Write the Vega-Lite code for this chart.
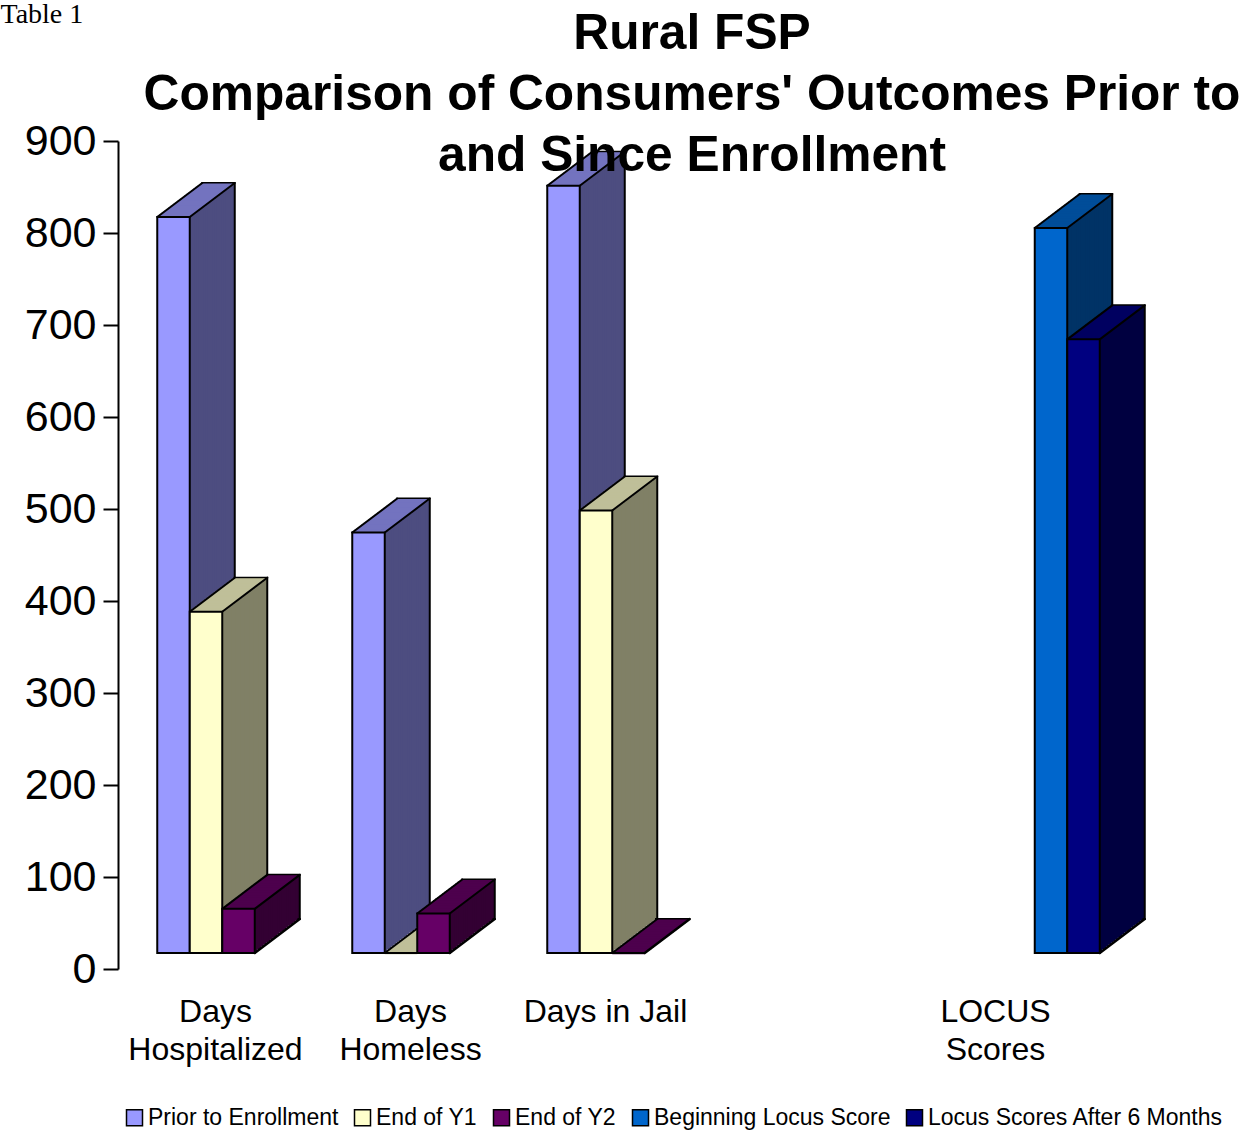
{
  "$schema": "https://vega.github.io/schema/vega-lite/v6.json",
  "background": "white",
  "padding": {"left": 0, "top": 0, "right": 5, "bottom": 5},
  "bounds": "flush",
  "data": {
    "values": [
      {"category": "Days Hospitalized", "series": "Prior to Enrollment", "value": 800},
      {"category": "Days Hospitalized", "series": "End of Y1", "value": 371},
      {"category": "Days Hospitalized", "series": "End of Y2", "value": 48},
      {"category": "Days Homeless", "series": "Prior to Enrollment", "value": 457},
      {"category": "Days Homeless", "series": "End of Y1", "value": 0},
      {"category": "Days Homeless", "series": "End of Y2", "value": 43},
      {"category": "Days in Jail", "series": "Prior to Enrollment", "value": 834},
      {"category": "Days in Jail", "series": "End of Y1", "value": 481},
      {"category": "Days in Jail", "series": "End of Y2", "value": 0},
      {"category": " ", "series": "Prior to Enrollment", "value": null},
      {"category": "LOCUS Scores", "series": "Beginning Locus Score", "value": 788},
      {"category": "LOCUS Scores", "series": "Locus Scores After 6 Months", "value": 667}
    ]
  },
  "title": {
    "text": ["Rural FSP", "Comparison of Consumers' Outcomes Prior to", "and Since Enrollment"],
    "font": "Liberation Sans",
    "fontSize": 49.7,
    "fontWeight": "bold",
    "color": "black",
    "lineHeight": 61,
    "anchor": "middle",
    "dx": 80,
    "offset": -182
  },
  "spacing": 0,
  "facet": {
    "column": {
      "field": "category",
      "type": "nominal",
      "sort": ["Days Hospitalized", "Days Homeless", "Days in Jail", " ", "LOCUS Scores"],
      "header": {
        "title": null,
        "labelOrient": "bottom",
        "labelFont": "Liberation Sans",
        "labelFontSize": 32,
        "labelColor": "black",
        "labelPadding": 28,
        "labelLineHeight": 38,
        "labelExpr": "datum.value == 'Days in Jail' ? datum.value : split(datum.value, ' ')"
      }
    }
  },
  "spec": {
    "width": 195,
    "height": 828,
    "encoding": {
      "x": {
        "field": "series",
        "type": "nominal",
        "scale": {
          "domain": ["Prior to Enrollment", "End of Y1", "End of Y2", "Beginning Locus Score", "Locus Scores After 6 Months"],
          "paddingInner": 0,
          "paddingOuter": 0.5
        },
        "axis": null
      },
      "y": {
        "field": "value",
        "type": "quantitative",
        "scale": {"domain": [0, 900], "nice": false},
        "axis": {
          "values": [0, 100, 200, 300, 400, 500, 600, 700, 800, 900],
          "grid": false,
          "domainColor": "black",
          "domainWidth": 2,
          "tickColor": "black",
          "tickWidth": 2,
          "tickSize": 15,
          "labelFont": "Liberation Sans",
          "labelFontSize": 43,
          "labelColor": "black",
          "labelPadding": 7,
          "title": "Table 1",
          "titleAngle": 0,
          "titleX": -118,
          "titleY": -119,
          "titleAlign": "left",
          "titleBaseline": "alphabetic",
          "titleFont": "Liberation Serif",
          "titleFontSize": 28,
          "titleFontWeight": "normal",
          "titleColor": "black"
        }
      }
    },
    "layer": [
      {"mark": {"type": "bar", "stroke": "black", "strokeWidth": 2, "xOffset": 68, "x2Offset": 68, "yOffset": -50, "y2Offset": -50},
       "encoding": {"fill": {"field": "series", "type": "nominal", "scale": {"domain": ["Locus Scores After 6 Months", "Beginning Locus Score", "End of Y2", "End of Y1", "Prior to Enrollment"], "range": ["#000040", "#003366", "#330033", "#808066", "#4D4D80"]}, "legend": null}}},
      {"mark": {"type": "bar", "xOffset": 65.75, "x2Offset": 65.75, "yOffset": -48.3, "y2Offset": -48.3}, "encoding": {"fill": {"field": "series", "type": "nominal", "legend": null}}},
      {"mark": {"type": "rule", "strokeWidth": 2.5, "xOffset": 49.5, "x2Offset": 82, "yOffset": -48.3}, "encoding": {"x2": {"field": "series"}, "stroke": {"field": "series", "type": "nominal", "scale": {"domain": ["End of Y1", "Prior to Enrollment", "End of Y2", "Beginning Locus Score", "Locus Scores After 6 Months"], "range": ["#BFBF99", "#7373BF", "#4D004D", "#004D99", "#000060"]}, "legend": null}}},
      {"mark": {"type": "bar", "xOffset": 63.5, "x2Offset": 63.5, "yOffset": -46.6, "y2Offset": -46.6}, "encoding": {"fill": {"field": "series", "type": "nominal", "legend": null}}},
      {"mark": {"type": "rule", "strokeWidth": 2.5, "xOffset": 47.25, "x2Offset": 79.75, "yOffset": -46.6}, "encoding": {"x2": {"field": "series"}, "stroke": {"field": "series", "type": "nominal", "legend": null}}},
      {"mark": {"type": "bar", "xOffset": 61.25, "x2Offset": 61.25, "yOffset": -44.9, "y2Offset": -44.9}, "encoding": {"fill": {"field": "series", "type": "nominal", "legend": null}}},
      {"mark": {"type": "rule", "strokeWidth": 2.5, "xOffset": 45, "x2Offset": 77.5, "yOffset": -44.9}, "encoding": {"x2": {"field": "series"}, "stroke": {"field": "series", "type": "nominal", "legend": null}}},
      {"mark": {"type": "bar", "xOffset": 59, "x2Offset": 59, "yOffset": -43.2, "y2Offset": -43.2}, "encoding": {"fill": {"field": "series", "type": "nominal", "legend": null}}},
      {"mark": {"type": "rule", "strokeWidth": 2.5, "xOffset": 42.75, "x2Offset": 75.25, "yOffset": -43.2}, "encoding": {"x2": {"field": "series"}, "stroke": {"field": "series", "type": "nominal", "legend": null}}},
      {"mark": {"type": "bar", "xOffset": 56.75, "x2Offset": 56.75, "yOffset": -41.5, "y2Offset": -41.5}, "encoding": {"fill": {"field": "series", "type": "nominal", "legend": null}}},
      {"mark": {"type": "rule", "strokeWidth": 2.5, "xOffset": 40.5, "x2Offset": 73, "yOffset": -41.5}, "encoding": {"x2": {"field": "series"}, "stroke": {"field": "series", "type": "nominal", "legend": null}}},
      {"mark": {"type": "bar", "xOffset": 54.5, "x2Offset": 54.5, "yOffset": -39.8, "y2Offset": -39.8}, "encoding": {"fill": {"field": "series", "type": "nominal", "legend": null}}},
      {"mark": {"type": "rule", "strokeWidth": 2.5, "xOffset": 38.25, "x2Offset": 70.75, "yOffset": -39.8}, "encoding": {"x2": {"field": "series"}, "stroke": {"field": "series", "type": "nominal", "legend": null}}},
      {"mark": {"type": "bar", "xOffset": 52.25, "x2Offset": 52.25, "yOffset": -38.1, "y2Offset": -38.1}, "encoding": {"fill": {"field": "series", "type": "nominal", "legend": null}}},
      {"mark": {"type": "rule", "strokeWidth": 2.5, "xOffset": 36, "x2Offset": 68.5, "yOffset": -38.1}, "encoding": {"x2": {"field": "series"}, "stroke": {"field": "series", "type": "nominal", "legend": null}}},
      {"mark": {"type": "bar", "xOffset": 50, "x2Offset": 50, "yOffset": -36.4, "y2Offset": -36.4}, "encoding": {"fill": {"field": "series", "type": "nominal", "legend": null}}},
      {"mark": {"type": "rule", "strokeWidth": 2.5, "xOffset": 33.75, "x2Offset": 66.25, "yOffset": -36.4}, "encoding": {"x2": {"field": "series"}, "stroke": {"field": "series", "type": "nominal", "legend": null}}},
      {"mark": {"type": "bar", "xOffset": 47.75, "x2Offset": 47.75, "yOffset": -34.7, "y2Offset": -34.7}, "encoding": {"fill": {"field": "series", "type": "nominal", "legend": null}}},
      {"mark": {"type": "rule", "strokeWidth": 2.5, "xOffset": 31.5, "x2Offset": 64, "yOffset": -34.7}, "encoding": {"x2": {"field": "series"}, "stroke": {"field": "series", "type": "nominal", "legend": null}}},
      {"mark": {"type": "bar", "xOffset": 45.5, "x2Offset": 45.5, "yOffset": -33, "y2Offset": -33}, "encoding": {"fill": {"field": "series", "type": "nominal", "legend": null}}},
      {"mark": {"type": "rule", "strokeWidth": 2.5, "xOffset": 29.25, "x2Offset": 61.75, "yOffset": -33}, "encoding": {"x2": {"field": "series"}, "stroke": {"field": "series", "type": "nominal", "legend": null}}},
      {"mark": {"type": "bar", "xOffset": 43.25, "x2Offset": 43.25, "yOffset": -31.3, "y2Offset": -31.3}, "encoding": {"fill": {"field": "series", "type": "nominal", "legend": null}}},
      {"mark": {"type": "rule", "strokeWidth": 2.5, "xOffset": 27, "x2Offset": 59.5, "yOffset": -31.3}, "encoding": {"x2": {"field": "series"}, "stroke": {"field": "series", "type": "nominal", "legend": null}}},
      {"mark": {"type": "bar", "xOffset": 41, "x2Offset": 41, "yOffset": -29.6, "y2Offset": -29.6}, "encoding": {"fill": {"field": "series", "type": "nominal", "legend": null}}},
      {"mark": {"type": "rule", "strokeWidth": 2.5, "xOffset": 24.75, "x2Offset": 57.25, "yOffset": -29.6}, "encoding": {"x2": {"field": "series"}, "stroke": {"field": "series", "type": "nominal", "legend": null}}},
      {"mark": {"type": "bar", "xOffset": 38.75, "x2Offset": 38.75, "yOffset": -27.9, "y2Offset": -27.9}, "encoding": {"fill": {"field": "series", "type": "nominal", "legend": null}}},
      {"mark": {"type": "rule", "strokeWidth": 2.5, "xOffset": 22.5, "x2Offset": 55, "yOffset": -27.9}, "encoding": {"x2": {"field": "series"}, "stroke": {"field": "series", "type": "nominal", "legend": null}}},
      {"mark": {"type": "bar", "xOffset": 36.5, "x2Offset": 36.5, "yOffset": -26.2, "y2Offset": -26.2}, "encoding": {"fill": {"field": "series", "type": "nominal", "legend": null}}},
      {"mark": {"type": "rule", "strokeWidth": 2.5, "xOffset": 20.25, "x2Offset": 52.75, "yOffset": -26.2}, "encoding": {"x2": {"field": "series"}, "stroke": {"field": "series", "type": "nominal", "legend": null}}},
      {"mark": {"type": "bar", "xOffset": 34.25, "x2Offset": 34.25, "yOffset": -24.5, "y2Offset": -24.5}, "encoding": {"fill": {"field": "series", "type": "nominal", "legend": null}}},
      {"mark": {"type": "rule", "strokeWidth": 2.5, "xOffset": 18, "x2Offset": 50.5, "yOffset": -24.5}, "encoding": {"x2": {"field": "series"}, "stroke": {"field": "series", "type": "nominal", "legend": null}}},
      {"mark": {"type": "bar", "xOffset": 32, "x2Offset": 32, "yOffset": -22.8, "y2Offset": -22.8}, "encoding": {"fill": {"field": "series", "type": "nominal", "legend": null}}},
      {"mark": {"type": "rule", "strokeWidth": 2.5, "xOffset": 15.75, "x2Offset": 48.25, "yOffset": -22.8}, "encoding": {"x2": {"field": "series"}, "stroke": {"field": "series", "type": "nominal", "legend": null}}},
      {"mark": {"type": "bar", "xOffset": 29.75, "x2Offset": 29.75, "yOffset": -21.1, "y2Offset": -21.1}, "encoding": {"fill": {"field": "series", "type": "nominal", "legend": null}}},
      {"mark": {"type": "rule", "strokeWidth": 2.5, "xOffset": 13.5, "x2Offset": 46, "yOffset": -21.1}, "encoding": {"x2": {"field": "series"}, "stroke": {"field": "series", "type": "nominal", "legend": null}}},
      {"mark": {"type": "bar", "xOffset": 27.5, "x2Offset": 27.5, "yOffset": -19.4, "y2Offset": -19.4}, "encoding": {"fill": {"field": "series", "type": "nominal", "legend": null}}},
      {"mark": {"type": "rule", "strokeWidth": 2.5, "xOffset": 11.25, "x2Offset": 43.75, "yOffset": -19.4}, "encoding": {"x2": {"field": "series"}, "stroke": {"field": "series", "type": "nominal", "legend": null}}},
      {"mark": {"type": "bar", "xOffset": 25.25, "x2Offset": 25.25, "yOffset": -17.7, "y2Offset": -17.7}, "encoding": {"fill": {"field": "series", "type": "nominal", "legend": null}}},
      {"mark": {"type": "rule", "strokeWidth": 2.5, "xOffset": 9, "x2Offset": 41.5, "yOffset": -17.7}, "encoding": {"x2": {"field": "series"}, "stroke": {"field": "series", "type": "nominal", "legend": null}}},
      {"mark": {"type": "rule", "strokeWidth": 2.5, "xOffset": 6.75, "x2Offset": 39.25, "yOffset": -16}, "encoding": {"x2": {"field": "series"}, "stroke": {"field": "series", "type": "nominal", "legend": null}}},
      {"mark": {"type": "rule", "color": "black", "strokeWidth": 2, "strokeCap": "round", "xOffset": 6.75, "x2Offset": 51.75, "yOffset": -16, "y2Offset": -50},
       "encoding": {"x2": {"field": "series"}, "y2": {"field": "value"}}},
      {"transform": [{"filter": "datum.value > 0"}],
       "mark": {"type": "rule", "color": "black", "strokeWidth": 2, "strokeCap": "round", "xOffset": 39.25, "x2Offset": 84.25, "yOffset": -16, "y2Offset": -50},
       "encoding": {"x2": {"field": "series"}, "y2": {"field": "value"}}},
      {"transform": [{"filter": "datum.series == 'End of Y2' || datum.series == 'Locus Scores After 6 Months'"}],
       "mark": {"type": "rule", "color": "black", "strokeWidth": 2.5, "strokeCap": "round", "xOffset": 39.25, "x2Offset": 84.25, "yOffset": -16, "y2Offset": -50},
       "encoding": {"x2": {"field": "series"}, "y": {"datum": 0, "type": "quantitative"}, "y2": {"datum": 0}}},
      {"mark": {"type": "bar", "stroke": "black", "strokeWidth": 2, "xOffset": 23, "x2Offset": 23, "yOffset": -16, "y2Offset": -16},
       "encoding": {
         "color": {
           "field": "series",
           "type": "nominal",
           "scale": {"domain": ["Prior to Enrollment", "End of Y1", "End of Y2", "Beginning Locus Score", "Locus Scores After 6 Months"], "range": ["#9999FF", "#FFFFCC", "#660066", "#0066CC", "#000080"]},
           "legend": {
             "title": null,
             "orient": "none",
             "legendX": 5,
             "legendY": 965,
             "direction": "horizontal",
             "symbolType": "square",
             "symbolSize": 256,
             "symbolStrokeColor": "black",
             "symbolStrokeWidth": 1.5,
             "symbolOpacity": 1,
             "labelFont": "Liberation Sans",
             "labelFontSize": 23,
             "labelColor": "black",
             "labelLimit": 500,
             "labelOffset": 2,
             "columnPadding": 12
           }
         }
       }}
    ]
  },
  "config": {"view": {"stroke": null}, "font": "Liberation Sans"}
}
